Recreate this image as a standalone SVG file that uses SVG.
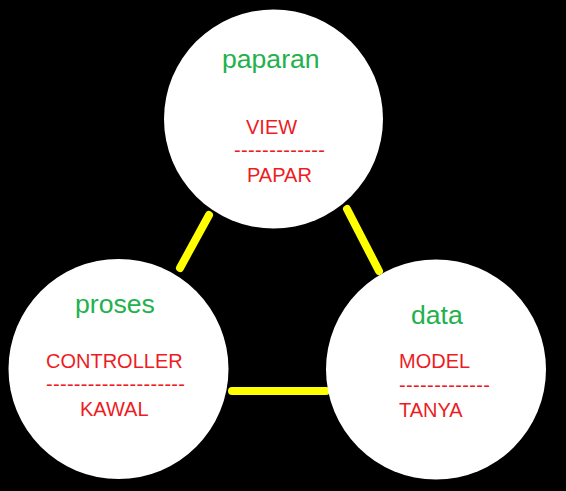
<svg xmlns="http://www.w3.org/2000/svg" width="566" height="491" viewBox="0 0 566 491">
<style>
.node circle{fill:#ffffff}
.g{fill:#22b14c;font-family:"Liberation Sans",Arial,sans-serif;font-size:26.6px}
.r{fill:#ed1c24;font-family:"Liberation Sans",Arial,sans-serif;font-size:20px}
.conn line{stroke:#ffff00;stroke-width:8;stroke-linecap:round}
</style>
<rect width="566" height="491" fill="#000000"/>
<g id="connectors" class="conn">
<line x1="209" y1="215" x2="180" y2="268"/>
<line x1="347" y1="209" x2="379" y2="271"/>
<line x1="232" y1="391" x2="326" y2="391"/>
</g>
<g id="paparan" class="node">
<circle cx="273.5" cy="119" r="109.5"/>
<text class="g" x="222" y="68">paparan</text>
<text class="r" x="246" y="134">VIEW</text>
<text class="r" x="234" y="157" textLength="91" lengthAdjust="spacing">-------------</text>
<text class="r" x="247" y="182">PAPAR</text>
</g>
<g id="proses" class="node">
<circle cx="118.5" cy="369" r="110"/>
<text class="g" x="75" y="313">proses</text>
<text class="r" x="46" y="368">CONTROLLER</text>
<text class="r" x="46" y="391" textLength="139" lengthAdjust="spacing">--------------------</text>
<text class="r" x="80" y="416">KAWAL</text>
</g>
<g id="data" class="node">
<circle cx="436" cy="369.5" r="110"/>
<text class="g" x="411" y="324">data</text>
<text class="r" x="399" y="368">MODEL</text>
<text class="r" x="399" y="392" textLength="91" lengthAdjust="spacing">-------------</text>
<text class="r" x="399" y="417">TANYA</text>
</g>
</svg>
